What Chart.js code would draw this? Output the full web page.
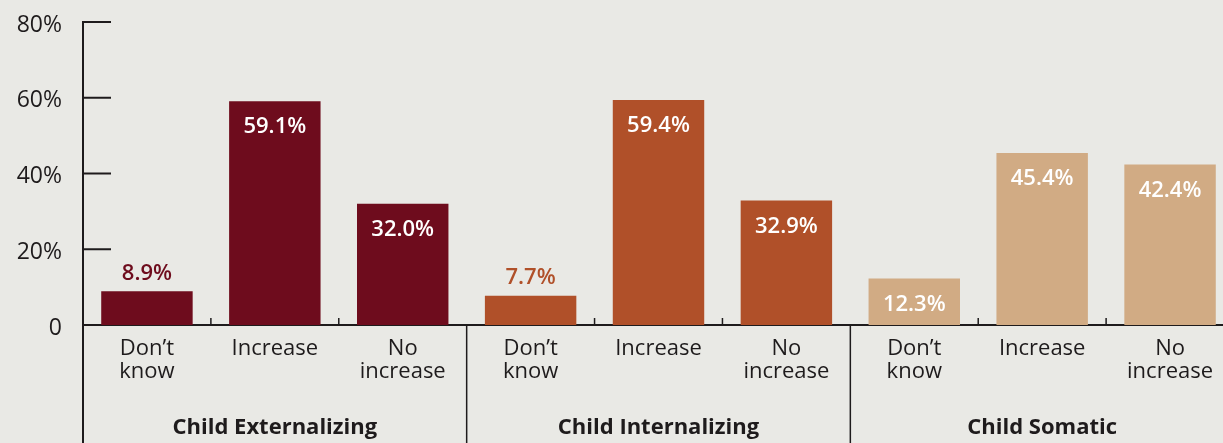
<!DOCTYPE html>
<html>
<head>
<meta charset="utf-8">
<script src="https://cdn.jsdelivr.net/npm/chart.js@4"></script>
<style>
  html, body { margin: 0; padding: 0; background: #e9e9e5; overflow: hidden; }
  #wrap { width: 1240px; height: 443px; }
</style>
</head>
<body>
<div id="wrap"><canvas id="myChart" width="1240" height="443"></canvas></div>
<script>
const groups = ['Child Externalizing', 'Child Internalizing', 'Child Somatic'];
const responses = [['Don\u2019t', 'know'], ['Increase'], ['No', 'increase']];
const externalizing = [8.9, 59.1, 32.0];
const internalizing = [7.7, 59.4, 32.9];
const somatic = [12.3, 45.4, 42.4];
const groupColors = ['#6e0c1d', '#b05029', '#d1ab84'];
const yTicks = [0, 20, 40, 60, 80];

const labels = [];
const values = [];
const colors = [];
[externalizing, internalizing, somatic].forEach(function (serie, g) {
  serie.forEach(function (v, i) {
    labels.push(responses[i]);
    values.push(v);
    colors.push(groupColors[g]);
  });
});

const font = "'Open Sans', Lato, sans-serif";
const ink = '#1e1b1c';

// axis lines, separators, group titles, value labels
const decor = {
  id: 'decor',
  beforeDatasetsDraw(chart) {
    const ctx = chart.ctx;
    const x = chart.scales.x, y = chart.scales.y;
    const area = chart.chartArea;
    const y0 = y.getPixelForValue(0);
    const step = (x.getPixelForValue(1) - x.getPixelForValue(0));
    ctx.save();
    ctx.strokeStyle = ink;
    ctx.lineWidth = 2;
    // y axis
    ctx.beginPath();
    ctx.moveTo(area.left, y.getPixelForValue(yTicks[yTicks.length - 1]) - 1);
    ctx.lineTo(area.left, chart.height);
    ctx.stroke();
    // tick marks
    yTicks.slice(1).forEach(function (t) {
      const py = y.getPixelForValue(t);
      ctx.beginPath();
      ctx.moveTo(area.left, py);
      ctx.lineTo(area.left + 28, py);
      ctx.stroke();
    });
    // zero line
    ctx.beginPath();
    ctx.moveTo(area.left, y0);
    ctx.lineTo(area.right, y0);
    ctx.stroke();
    // boundaries
    for (let i = 1; i < labels.length; i++) {
      const bx = x.getPixelForValue(i) - step / 2;
      ctx.beginPath();
      ctx.lineWidth = 1.5;
      if (i % 3 === 0) {
        ctx.moveTo(bx, y0);
        ctx.lineTo(bx, chart.height);
      } else {
        ctx.moveTo(bx, y0 - 7);
        ctx.lineTo(bx, y0);
      }
      ctx.stroke();
    }
    // group titles
    ctx.fillStyle = ink;
    ctx.font = 'bold 22px ' + font;
    ctx.textAlign = 'center';
    ctx.textBaseline = 'middle';
    groups.forEach(function (g, i) {
      ctx.fillText(g, x.getPixelForValue(i * 3 + 1), 428);
    });
    ctx.restore();
  },
  afterDatasetsDraw(chart) {
    const ctx = chart.ctx;
    const meta = chart.getDatasetMeta(0);
    ctx.save();
    ctx.font = '600 22px ' + font;
    ctx.textAlign = 'center';
    ctx.textBaseline = 'middle';
    meta.data.forEach(function (bar, i) {
      const v = values[i];
      const txt = v.toFixed(1) + '%';
      if (v < 10) {
        ctx.fillStyle = colors[i];
        ctx.fillText(txt, bar.x, bar.y - 18);
      } else {
        ctx.fillStyle = '#ffffff';
        ctx.fillText(txt, bar.x, bar.y + 26);
      }
    });
    ctx.restore();
  }
};

const data = {
  labels: labels,
  datasets: [{
    data: values,
    backgroundColor: colors,
    borderWidth: 0,
    categoryPercentage: 1,
    barPercentage: 0.715
  }]
};

const config = {
  type: 'bar',
  data: data,
  options: {
    responsive: false,
    animation: false,
    layout: { padding: { top: 22, right: 6, bottom: 0, left: 0 } },
    plugins: { legend: { display: false }, tooltip: { enabled: false } },
    scales: {
      x: {
        grid: { display: false },
        border: { display: false },
        ticks: {
          color: ink,
          font: { family: font, size: 22, lineHeight: 1.02 },
          padding: 5,
          maxRotation: 0,
          autoSkip: false
        },
        afterFit: function (s) { s.height = 118; }
      },
      y: {
        min: 0,
        max: 80,
        grid: { display: false, drawTicks: false },
        border: { display: false },
        ticks: {
          stepSize: 20,
          color: ink,
          padding: 21,
          labelOffset: 3,
          font: { family: font, size: 23 },
          callback: function (v) { return v === 0 ? '0' : v + '%'; }
        },
        afterFit: function (s) {
          s.width = 83;
          s.paddingTop = 0;
          s.paddingBottom = 0;
        }
      }
    }
  },
  plugins: [decor]
};

const myChart = new Chart(document.getElementById('myChart'), config);
</script>
</body>
</html>
